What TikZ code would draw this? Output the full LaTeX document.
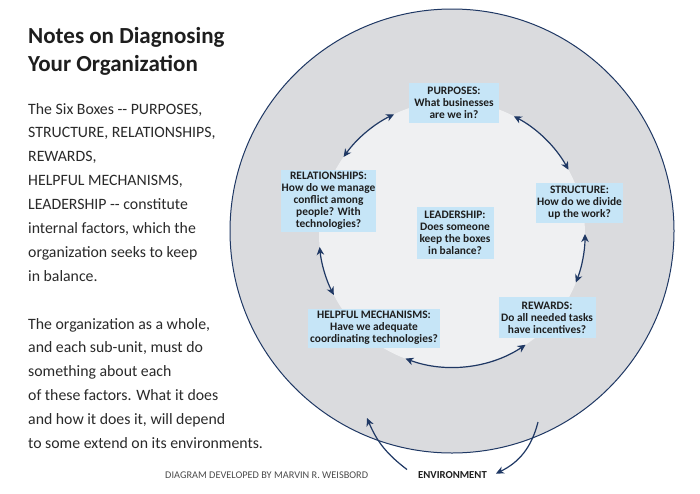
\documentclass[tikz,border=0pt]{standalone}
\usepackage{fontspec}
\setmainfont{Carlito}
\usetikzlibrary{arrows.meta}
\definecolor{navy}{HTML}{1F3864}
\definecolor{ringgray}{HTML}{DADBDE}
\definecolor{innergray}{HTML}{EFF0F2}
\definecolor{boxblue}{HTML}{C6E5F7}
\definecolor{txt}{HTML}{1E1E1E}
\definecolor{bodytxt}{HTML}{2A2A2A}
\begin{document}
\begin{tikzpicture}[x=1pt,y=1pt,
  qbox/.style={fill=boxblue, align=center, inner sep=1pt, text=txt,
    font=\bfseries\fontsize{11.4}{12}\selectfont},
  bodyline/.style={anchor=base west, inner sep=0pt, text=bodytxt,
    font=\fontsize{15.8}{18}\selectfont},
  arcarrow/.style={draw=navy, line width=1.2pt,
    {Stealth[length=8pt,width=7.5pt,inset=2.5pt]}-{Stealth[length=8pt,width=7.5pt,inset=2.5pt]}},
  envarrow/.style={draw=navy, line width=1.2pt,
    -{Stealth[length=8pt,width=7.5pt,inset=2.5pt]}}
]
\useasboundingbox (0,0) rectangle (700,-493);
\fill[white] (0,0) rectangle (700,-493);

% circles
\coordinate (oc) at (452,-231);
\coordinate (ic) at (452,-234);
\draw[navy, line width=1pt, fill=ringgray] (oc) circle[radius=222pt];
\fill[innergray] (ic) circle[radius=133pt];

% title
\node[anchor=base west, inner sep=0pt, text=txt, font=\bfseries\fontsize{23}{28}\selectfont] (t1) at (28,-43) {Notes on Diagnosing};
\node[anchor=base west, inner sep=0pt, text=txt, font=\bfseries\fontsize{23}{28}\selectfont] (t2) at (28,-71) {Your Organization};

% body text
\foreach \s [count=\i] in {{The Six Boxes -\kern0pt- PURPOSES,},{STRUCTURE, RELATIONSHIPS,},{REWARDS,},{HELPFUL MECHANISMS,},{LEADERSHIP -\kern0pt- constitute},{internal factors, which the},{organization seeks to keep},{in balance.}}
  \node[bodyline] (pa\i) at (28,{-114-23.9*(\i-1)}) {\s};
\foreach \s [count=\i] in {{The organization as a whole,},{and each sub-unit, must do},{something about each},{of these factors. What it does},{and how it does it, will depend},{to some extend on its environments.}}
  \node[bodyline] (pb\i) at (28,{-329-23.9*(\i-1)}) {\s};

% arc arrow end points on the inner circle
\coordinate (a1) at ([shift={(144.6:133pt)}]ic);
\coordinate (a2) at ([shift={(115.8:133pt)}]ic);
\coordinate (a3) at ([shift={(62.3:133pt)}]ic);
\coordinate (a4) at ([shift={(28.9:133pt)}]ic);
\coordinate (a5) at ([shift={(0:133pt)}]ic);
\coordinate (a6) at ([shift={(-21.4:133pt)}]ic);
\coordinate (a7) at ([shift={(185.6:133pt)}]ic);
\coordinate (a8) at ([shift={(207.3:133pt)}]ic);
\coordinate (a9) at ([shift={(249.5:133pt)}]ic);
\coordinate (a10) at ([shift={(303.6:133pt)}]ic);

\draw[arcarrow] (a1) arc[start angle=144.6, end angle=115.8, radius=133pt];
\draw[arcarrow] (a3) arc[start angle=62.3, end angle=28.9, radius=133pt];
\draw[arcarrow] (a5) arc[start angle=0, end angle=-21.4, radius=133pt];
\draw[arcarrow] (a7) arc[start angle=185.6, end angle=207.3, radius=133pt];
\draw[arcarrow] (a9) arc[start angle=249.5, end angle=303.6, radius=133pt];

% boxes
\node[qbox, minimum width=90pt, minimum height=40pt] (purposes) at (454,-103) {PURPOSES:\\What businesses\\are we in?};
\node[qbox, minimum width=94pt, minimum height=62pt] (relationships) at (328.5,-201) {RELATIONSHIPS:\\How do we manage\\conflict among\\people? With\\technologies?};
\node[qbox, minimum width=77pt, minimum height=52pt] (leadership) at (455,-233) {LEADERSHIP:\\Does someone\\keep the boxes\\in balance?};
\node[qbox, minimum width=86pt, minimum height=40pt] (structure) at (579.5,-203) {STRUCTURE:\\How do we divide\\up the work?};
\node[qbox, minimum width=97pt, minimum height=41pt] (rewards) at (547,-317.5) {REWARDS:\\Do all needed tasks\\have incentives?};
\node[qbox, minimum width=132pt, minimum height=39pt] (helpful) at (374,-328) {HELPFUL MECHANISMS:\\Have we adequate\\coordinating technologies?};

% environment
\node[anchor=base, inner sep=0pt, text=txt, font=\bfseries\fontsize{10.7}{12}\selectfont] (env) at (452.5,-478) {ENVIRONMENT};
\coordinate (eL) at (367,-418);
\coordinate (eR) at (538,-422);
\draw[envarrow] ([shift={(-11pt,5pt)}]env.west) to[bend left=15] (eL);
\draw[envarrow] (eR) to[bend left=25] ([shift={(9pt,1pt)}]env.east);

% credit
\node[anchor=base west, inner sep=0pt, text=black!70, font=\fontsize{10.3}{11}\selectfont] (credit) at (165,-478) {DIAGRAM DEVELOPED BY MARVIN R. WEISBORD};
\end{tikzpicture}
\end{document}
